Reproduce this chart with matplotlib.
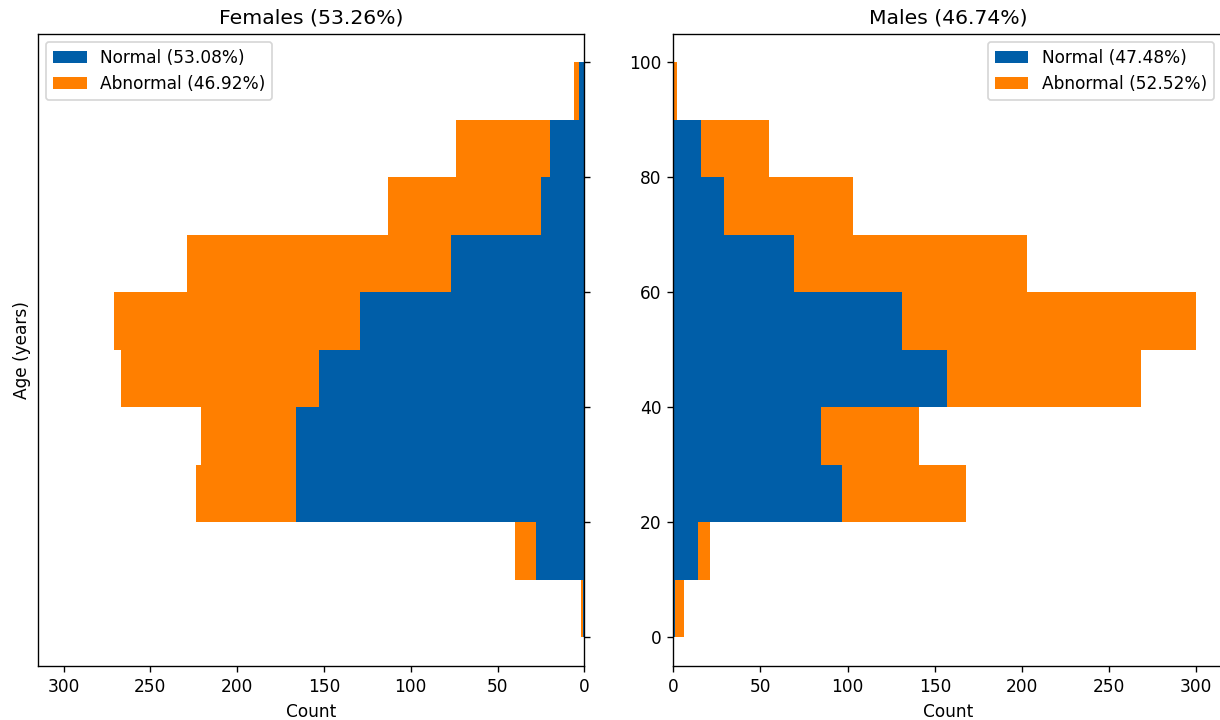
import numpy as np
import matplotlib
matplotlib.use("Agg")
import matplotlib.pyplot as plt

# Age bins (lower edges, 10-year bins)
bin_edges = [0, 10, 20, 30, 40, 50, 60, 70, 80, 90]
bin_width = 10

# Females
female_normal = [1, 28, 166, 166, 153, 129, 77, 25, 20, 3]
female_abnormal = [1, 12, 58, 55, 114, 142, 152, 88, 54, 3]
# Males
male_normal = [1, 14, 97, 85, 157, 131, 69, 29, 16, 0]
male_abnormal = [5, 7, 71, 56, 111, 169, 134, 74, 39, 2]

female_title = "Females (53.26%)"
male_title = "Males (46.74%)"
female_labels = ["Normal (53.08%)", "Abnormal (46.92%)"]
male_labels = ["Normal (47.48%)", "Abnormal (52.52%)"]

c_normal = "#005EA8"
c_abnormal = "#FF7F00"

fig = plt.figure(figsize=(10, 720 / 122), dpi=122)
ax1 = fig.add_axes([37.6 / 1220, 54 / 720, (584.3 - 37.6) / 1220, 632.5 / 720])
ax2 = fig.add_axes([673.3 / 1220, 54 / 720, (1222.5 - 673.3) / 1220, 632.5 / 720], sharey=ax1)

fn = np.array(female_normal)
fa = np.array(female_abnormal)
mn = np.array(male_normal)
ma = np.array(male_abnormal)

ax1.barh(bin_edges, fn, height=bin_width, align="edge", color=c_normal, label=female_labels[0])
ax1.barh(bin_edges, fa, height=bin_width, left=fn, align="edge", color=c_abnormal, label=female_labels[1])
ax2.barh(bin_edges, mn, height=bin_width, align="edge", color=c_normal, label=male_labels[0])
ax2.barh(bin_edges, ma, height=bin_width, left=mn, align="edge", color=c_abnormal, label=male_labels[1])

lim = 1.05 * max((fn + fa).max(), (mn + ma).max())
ax1.set_xlim(lim, 0)
ax2.set_xlim(0, lim)
ax1.set_ylim(-5, 105)

ax1.set_title(female_title, fontsize=12)
ax2.set_title(male_title, fontsize=12)
ax1.set_xlabel("Count")
ax2.set_xlabel("Count")
ax1.set_ylabel("Age (years)")

ax1.yaxis.tick_right()
ax1.tick_params(axis="y", labelright=False, labelleft=False)
ax1.yaxis.set_label_position("left")
ax2.tick_params(axis="y", labelleft=True)

ax1.legend(loc="upper left")
ax2.legend(loc="upper right")

fig.savefig("out.png", dpi=122)
